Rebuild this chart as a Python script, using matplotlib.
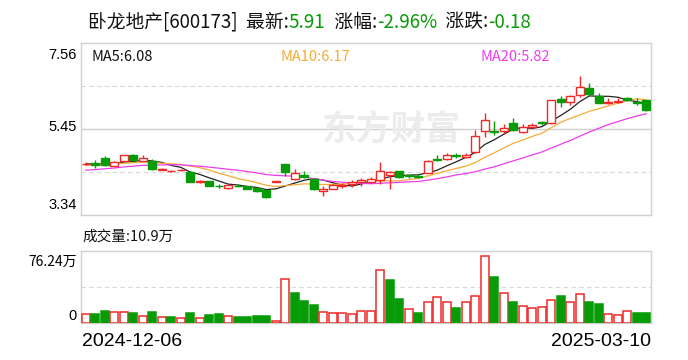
import numpy as np
import matplotlib.pyplot as plt

plt.rcParams['font.family'] = ['Noto Sans CJK SC', 'DejaVu Sans']

# closes before the first visible day, only used to start the moving averages
pre_close = [4.20, 4.22, 4.25, 4.28, 4.30, 4.33, 4.35, 4.36, 4.40, 4.45,
             4.50, 4.52, 4.50, 4.55, 4.58, 4.56, 4.60, 4.62, 4.58]

open_ = [4.58, 4.62, 4.75, 4.55, 4.67, 4.82, 4.67, 4.66, 4.45, 4.42,
         4.44, 4.40, 4.15, 4.17, 4.05, 4.00, 4.06, 4.04, 4.01, 3.95,
         4.16, 4.58, 4.23, 4.33, 4.23, 3.92, 3.99, 4.06, 4.09, 4.14,
         4.15, 4.20, 4.33, 4.41, 4.31, 4.29, 4.38, 4.72, 4.72, 4.81,
         4.77, 4.89, 5.41, 5.41, 5.41, 5.60, 5.38, 5.50, 5.62, 5.59,
         6.18, 6.11, 6.28, 6.46, 6.26, 6.10, 6.12, 6.20, 6.11, 6.15]
high = [4.63, 4.68, 4.78, 4.66, 4.81, 4.84, 4.80, 4.72, 4.49, 4.45,
        4.48, 4.41, 4.19, 4.18, 4.09, 4.08, 4.09, 4.06, 4.02, 3.96,
        4.16, 4.58, 4.46, 4.43, 4.25, 4.05, 4.10, 4.12, 4.19, 4.26,
        4.27, 4.63, 4.41, 4.43, 4.33, 4.35, 4.69, 4.80, 4.85, 4.86,
        4.86, 5.43, 5.85, 5.64, 5.57, 5.73, 5.57, 5.60, 5.65, 6.16,
        6.26, 6.28, 6.74, 6.58, 6.33, 6.22, 6.20, 6.24, 6.20, 6.15]
low = [4.56, 4.49, 4.55, 4.54, 4.66, 4.67, 4.66, 4.44, 4.44, 4.40,
       4.42, 4.15, 4.13, 4.04, 4.01, 3.99, 4.02, 3.98, 3.91, 3.75,
       4.16, 4.29, 4.21, 4.26, 3.96, 3.81, 3.97, 4.00, 4.02, 4.05,
       4.12, 4.09, 3.97, 4.26, 4.25, 4.24, 4.36, 4.66, 4.70, 4.74,
       4.75, 4.87, 5.25, 5.30, 5.32, 5.40, 5.36, 5.48, 5.55, 5.57,
       5.99, 6.05, 6.23, 6.25, 6.09, 6.07, 6.08, 6.13, 6.05, 5.90]
close = [4.60, 4.57, 4.56, 4.65, 4.80, 4.68, 4.74, 4.46, 4.47, 4.43,
         4.45, 4.16, 4.17, 4.05, 4.04, 4.07, 4.05, 3.99, 3.93, 3.78,
         4.16, 4.39, 4.36, 4.28, 3.97, 3.98, 4.07, 4.08, 4.16, 4.21,
         4.23, 4.41, 4.39, 4.27, 4.29, 4.27, 4.67, 4.70, 4.80, 4.79,
         4.80, 5.29, 5.67, 5.38, 5.47, 5.42, 5.50, 5.55, 5.59, 6.15,
         6.12, 6.25, 6.49, 6.30, 6.10, 6.12, 6.14, 6.15, 6.09, 5.91]
# volume in 万手
volume = [9.2, 9.2, 12.4, 11.3, 11.3, 10.3, 7.8, 11.3, 6.8, 6.0,
          5.7, 10.3, 5.7, 8.2, 9.2, 7.8, 6.0, 6.0, 7.1, 7.1,
          2.5, 47.0, 31.8, 23.0, 18.7, 11.3, 10.3, 10.3, 9.2, 12.4,
          12.4, 55.8, 45.2, 25.1, 15.2, 10.3, 21.9, 27.9, 22.6, 15.6,
          22.6, 29.0, 70.6, 48.4, 32.2, 21.9, 18.4, 16.3, 17.4, 24.8,
          28.3, 22.6, 31.1, 21.9, 19.8, 10.0, 8.9, 13.1, 10.3, 10.9]

stock = '卧龙地产[600173]'
first_date = '2024-12-06'
last_date = '2025-03-10'
price_top, price_bottom = 7.56, 3.34
vol_top = 76.24

RED = '#f02828'
GREEN = '#079b07'
MA_COLORS = {5: '#222222', 10: '#f5ab35', 20: '#f03cf0'}

W, H = 688, 360
fig = plt.figure(figsize=(W / 100, H / 100), dpi=100)


def box(left, top, right, bottom):
    return [left / W, 1 - bottom / H, (right - left) / W, (bottom - top) / H]


def px(x, y):
    return x / W, 1 - y / H


ax = fig.add_axes(box(81, 43, 651, 215))
axv = fig.add_axes(box(81, 251, 651, 323))

n = len(close)
x = np.arange(n)
o = np.array(open_)
c = np.array(close)
prev = np.concatenate([[pre_close[-1]], c[:-1]])
up_day = c >= prev
candle_up = np.where(c == o, up_day, c > o)

# grid
mid = (price_top + price_bottom) / 2
for a in (ax, axv):
    for s in a.spines.values():
        s.set_color('#d0d0d0')
        s.set_linewidth(1)
    a.set_xticks([])
    a.set_yticks([])
    a.set_xlim(-0.5, n - 0.5)
ax.set_ylim(price_bottom, price_top)
axv.set_ylim(0, vol_top)
ax.axhline(mid, color='#d0d0d0', lw=1, zorder=0)
ax.axhline((price_top + mid) / 2, color='#d8d8d8', lw=0.8, ls=(0, (4, 3)), zorder=0)
ax.axhline((price_bottom + mid) / 2, color='#d8d8d8', lw=0.8, ls=(0, (4, 3)), zorder=0)
axv.axhline(vol_top / 2, color='#d8d8d8', lw=0.8, ls=(0, (4, 3)), zorder=0)

# watermark
ax.text(0.545, 0.50, '东方财富', transform=ax.transAxes, ha='center', va='center',
        fontsize=25, fontweight='bold', color='#ececec', zorder=0)

# moving averages
all_close = np.concatenate([pre_close, c])
ma_last = {}
for k, col in MA_COLORS.items():
    ma = np.convolve(all_close, np.ones(k) / k, mode='valid')[-n:]
    ax.plot(x, ma, color=col, lw=0.9, zorder=2)
    ma_last[k] = ma[-1]

# candles
bw = 0.8
for i in range(n):
    col = RED if candle_up[i] else GREEN
    ax.vlines(x[i], low[i], high[i], color=col, lw=1, zorder=3)
    bottom = min(o[i], c[i])
    h = max(abs(c[i] - o[i]), 0.005)
    ax.bar(x[i], h, bottom=bottom, width=bw,
           facecolor='white' if candle_up[i] else col,
           edgecolor=col, linewidth=1, zorder=4)

# volume
for i in range(n):
    col = RED if up_day[i] else GREEN
    axv.bar(x[i], volume[i], width=0.84,
            facecolor='white' if up_day[i] else col,
            edgecolor=col, linewidth=1.1, zorder=3)

# title
fig.canvas.draw()
r = fig.canvas.get_renderer()
chg = c[-1] - prev[-1]
pct = chg / prev[-1] * 100
parts = [(stock + '  最新:', '#111111'), ('%.2f' % c[-1], GREEN),
         ('  涨幅:', '#111111'), ('%.2f%%' % pct, GREEN),
         ('  涨跌:', '#111111'), ('%.2f' % chg, GREEN)]
tx = 88
for s, col in parts:
    t = fig.text(*px(tx, 22), s, fontsize=13.5, color=col, va='center', ha='left')
    tx += t.get_window_extent(r).width

# ma labels
ma_x = {5: 92, 10: 281, 20: 481}
for k, col in MA_COLORS.items():
    lab_col = '#111111' if k == 5 else col
    fig.text(*px(ma_x[k], 57), 'MA%d:%.2f' % (k, ma_last[k]), fontsize=10.5,
             color=lab_col, va='center', ha='left')

narrow = ['Liberation Sans Narrow', 'Liberation Sans', 'DejaVu Sans']
fig.text(*px(77, 55), '%.2f' % price_top, fontsize=10.5, family=narrow, ha='right', va='center')
fig.text(*px(77, 127), '%.2f' % mid, fontsize=10.5, family=narrow, ha='right', va='center')
fig.text(*px(77, 205), '%.2f' % price_bottom, fontsize=10.5, family=narrow, ha='right', va='center')

fig.text(*px(82, 237), '成交量:%.1f万' % volume[-1], fontsize=10.5, color='#111111',
         ha='left', va='center')
fig.text(*px(77, 262), '%.2f万' % vol_top, fontsize=10, family=['Noto Sans CJK SC', 'DejaVu Sans'],
         ha='right', va='center')
fig.text(*px(77, 316), '0', fontsize=10.5, family=narrow, ha='right', va='center')

fig.text(*px(82, 341), first_date, fontsize=14, family=narrow, ha='left', va='center')
fig.text(*px(651, 341), last_date, fontsize=14, family=narrow, ha='right', va='center')

fig.savefig('out.png', dpi=100, facecolor='white')
